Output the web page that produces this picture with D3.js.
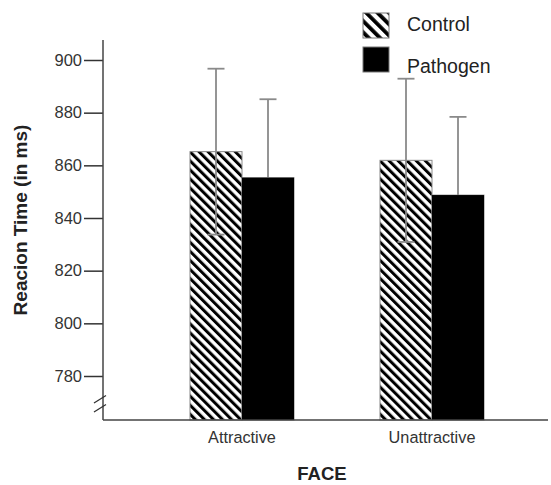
<!DOCTYPE html>
<html>
<head>
<meta charset="utf-8">
<script src="https://cdn.jsdelivr.net/npm/d3@7"></script>
<style>
  html, body { margin: 0; padding: 0; background: #fff; }
  svg { display: block; font-family: "Liberation Sans", Arial, sans-serif; }
</style>
</head>
<body>
<svg id="chart" width="551" height="485"></svg>
<script>
// ---- data ----
const categories = ["Attractive", "Unattractive"];
const seriesNames = ["Control", "Pathogen"];
const controlMeans = [865.2, 861.9];
const controlErrors = [31.5, 31];
const pathogenMeans = [855.3, 848.7];
const pathogenErrors = [29.8, 29.7];
const tickValues = [780, 800, 820, 840, 860, 880, 900];
const yAxisMin = 763.3;   // value at the broken baseline
const yAxisMax = 907.6;   // value at top end of the axis line
const xTitle = "FACE";
const yTitle = "Reacion Time (in ms)";

const rows = [];
categories.forEach((c, i) => {
  rows.push({cat: c, series: "Control", mean: controlMeans[i], err: controlErrors[i]});
  rows.push({cat: c, series: "Pathogen", mean: pathogenMeans[i], err: pathogenErrors[i]});
});

const svg = d3.select("#chart");
const axisX = 103;

// hatch patterns (stripes running top-left to bottom-right)
const defs = svg.append("defs");
function hatch(id, size, thick) {
  const p = defs.append("pattern")
    .attr("id", id)
    .attr("patternUnits", "userSpaceOnUse")
    .attr("width", size).attr("height", size)
    .attr("patternTransform", "rotate(-45)");
  p.append("rect").attr("width", size).attr("height", size).attr("fill", "#fff");
  p.append("rect").attr("x", 0).attr("width", thick).attr("height", size).attr("fill", "#000");
}
hatch("hatch", 6.4, 3);
hatch("hatchL", 8, 3.8);

const y = d3.scaleLinear().domain([780, 900]).range([376, 60]);
const x0 = d3.scaleBand().domain(categories).range([147, 527])
  .paddingInner(0.4526).paddingOuter(0.2263);
const x1 = d3.scaleBand().domain(seriesNames).range([0, x0.bandwidth()]);

const fills = {Control: "url(#hatch)", Pathogen: "#000"};

// bars
svg.append("g").selectAll("rect")
  .data(rows).join("rect")
  .attr("x", d => x0(d.cat) + x1(d.series))
  .attr("y", d => y(d.mean))
  .attr("width", x1.bandwidth())
  .attr("height", d => y(yAxisMin) - y(d.mean))
  .attr("fill", d => fills[d.series])
  .attr("stroke", "#888")
  .attr("stroke-width", 1);

// error bars
const eb = svg.append("g").attr("stroke", "#8a8a8a").attr("stroke-width", 1.8).attr("fill", "none");
rows.forEach(d => {
  const cx = x0(d.cat) + x1(d.series) + x1.bandwidth() / 2;
  const top = y(d.mean + d.err), bot = y(d.mean - d.err);
  eb.append("line").attr("x1", cx).attr("x2", cx).attr("y1", top).attr("y2", bot);
  eb.append("line").attr("x1", cx - 8.5).attr("x2", cx + 8.5).attr("y1", top).attr("y2", top);
  eb.append("line").attr("x1", cx - 8.5).attr("x2", cx + 8.5).attr("y1", bot).attr("y2", bot);
});
// pathogen bars redrawn over their lower error bars
svg.append("g").selectAll("rect")
  .data(rows.filter(d => d.series === "Pathogen")).join("rect")
  .attr("x", d => x0(d.cat) + x1(d.series))
  .attr("y", d => y(d.mean))
  .attr("width", x1.bandwidth())
  .attr("height", d => y(yAxisMin) - y(d.mean))
  .attr("fill", "#000");

// y axis
const yAxis = d3.axisLeft(y).tickValues(tickValues).tickSize(19).tickPadding(2);
const gy = svg.append("g").attr("transform", `translate(${axisX},0)`).call(yAxis);
gy.select(".domain").remove();
gy.selectAll(".tick line").attr("stroke", "#333").attr("stroke-width", 1.5);
gy.selectAll(".tick text").attr("font-size", 16.5).attr("fill", "#333")
  .attr("font-family", "Liberation Sans, Arial, sans-serif");

// axis lines
svg.append("line").attr("x1", axisX).attr("x2", axisX)
  .attr("y1", y(yAxisMax)).attr("y2", y(yAxisMin))
  .attr("stroke", "#444").attr("stroke-width", 1.5);
svg.append("line").attr("x1", axisX).attr("x2", 548)
  .attr("y1", y(yAxisMin)).attr("y2", y(yAxisMin))
  .attr("stroke", "#444").attr("stroke-width", 1.5);

// break marks
const brk = svg.append("g").attr("stroke", "#333").attr("stroke-width", 1.3);
[0, 9].forEach(o => {
  brk.append("line").attr("x1", axisX - 9).attr("y1", 403 + o).attr("x2", axisX + 3).attr("y2", 395.5 + o);
});

// x category labels
svg.append("g").selectAll("text")
  .data(categories).join("text")
  .attr("x", d => x0(d) + x0.bandwidth() / 2)
  .attr("y", 443)
  .attr("text-anchor", "middle")
  .attr("font-size", 16.3)
  .attr("fill", "#333")
  .text(d => d);

// titles
svg.append("text").attr("x", 322).attr("y", 480)
  .attr("text-anchor", "middle").attr("font-size", 18.5).attr("font-weight", "bold")
  .attr("fill", "#222").text(xTitle);
svg.append("text")
  .attr("transform", "translate(27,220) rotate(-90)")
  .attr("text-anchor", "middle").attr("font-size", 19).attr("font-weight", "bold")
  .attr("fill", "#222").text(yTitle);

// legend
const legend = svg.append("g");
const legendY = [13, 47];
seriesNames.forEach((s, i) => {
  legend.append("rect").attr("x", 363).attr("y", legendY[i]).attr("width", 26).attr("height", 25)
    .attr("fill", s === "Control" ? "url(#hatchL)" : "#000")
    .attr("stroke", "#777").attr("stroke-width", 1);
  legend.append("text").attr("x", 407).attr("y", i === 0 ? 31 : 73)
    .attr("font-size", 19.5).attr("fill", "#222").text(s);
});
</script>
</body>
</html>
